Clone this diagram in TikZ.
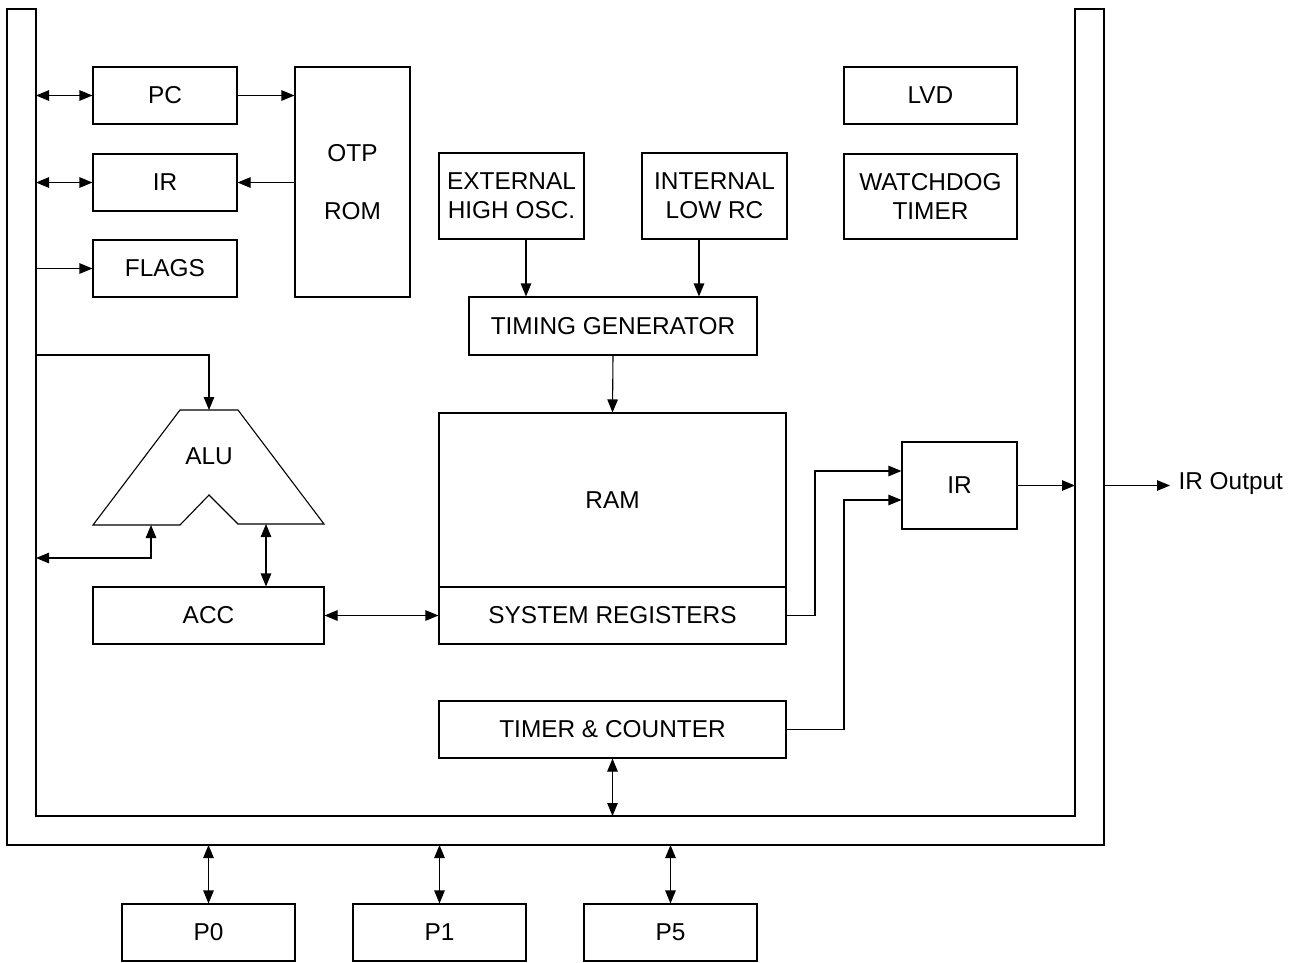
\documentclass[tikz,border=0pt]{standalone}
\usepackage{fontspec}
\setmainfont{Liberation Sans}
\usetikzlibrary{arrows.meta,calc}
\begin{document}
\begin{tikzpicture}[x=1pt,y=-1pt,
  line width=1.1pt,
  tip/.tip={Triangle[length=13pt,width=10.5pt]},
  every node/.style={font=\fontsize{24.4}{29}\selectfont, inner sep=0pt},
  blk/.style={draw, rectangle, align=center, line width=1.1pt},
  one/.style={-tip},
  two/.style={tip-tip}]
\useasboundingbox (0,0) rectangle (1296,962);

% system bus (U-shaped band)
\draw (7,9) -- (36,9) -- (36,816) -- (1075,816) -- (1075,9) -- (1104,9)
      -- (1104,845) -- (7,845) -- cycle;
\coordinate (busL) at (36,0);
\coordinate (busB) at (0,816);
\coordinate (busO) at (0,845);
\coordinate (busRi) at (1075,0);
\coordinate (busRo) at (1104,0);

% program side
\node[blk, minimum width=144, minimum height=57] (pc)    at (165,95.5)  {PC};
\node[blk, minimum width=144, minimum height=57] (irl)   at (165,182.5) {IR};
\node[blk, minimum width=144, minimum height=57] (flags) at (165,268.5) {FLAGS};
\node[blk, minimum width=115, minimum height=230] (otp)  at (352.5,182) {OTP\\[29pt]ROM};

% clocks and supervision
\node[blk, minimum width=173, minimum height=57] (lvd) at (930.5,95.5) {LVD};
\node[blk, minimum width=173, minimum height=85] (wdt) at (930.5,196.5) {WATCHDOG\\TIMER};
\node[blk, minimum width=145, minimum height=86] (ext) at (511.5,196) {EXTERNAL\\HIGH OSC.};
\node[blk, minimum width=145, minimum height=86] (irc) at (714.5,196) {INTERNAL\\LOW RC};
\node[blk, minimum width=288, minimum height=58] (tg)  at (613,326) {TIMING GENERATOR};

% data side
\node[blk, minimum width=347, minimum height=174] (ram) at (612.5,500) {RAM};
\node[blk, minimum width=347, minimum height=57] (sys) at (612.5,615.5) {SYSTEM REGISTERS};
\node[blk, minimum width=231, minimum height=57] (acc) at (208.5,615.5) {ACC};
\node[blk, minimum width=115, minimum height=87] (irr) at (959.5,485.5) {IR};
\node[blk, minimum width=347, minimum height=57] (tc)  at (612.5,729.5) {TIMER \& COUNTER};

% I/O ports
\node[blk, minimum width=173, minimum height=57] (p0) at (208.5,932.5) {P0};
\node[blk, minimum width=173, minimum height=57] (p1) at (439.5,932.5) {P1};
\node[blk, minimum width=173, minimum height=57] (p5) at (670.5,932.5) {P5};

% ALU outline with its notched base
\draw (93,525) -- (180,410) -- (238,410) -- (324,524) -- (238,524)
      -- (209,495) -- (180,525) -- cycle;
\node (alu) at (209,456) {ALU};
\coordinate (aluIn)  at (209,410);
\coordinate (aluL)   at (151,525);
\coordinate (aluR)   at (266,524);

% register file connections
\draw[two] (pc.west -| busL) -- (pc.west);
\draw[one] (pc.east) -- (pc.east -| otp.west);
\draw[one] (irl.east -| otp.west) -- (irl.east);
\draw[two] (irl.west -| busL) -- (irl.west);
\draw[one] (flags.west -| busL) -- (flags.west);

% ALU connections
\draw[one] (busL |- 0,355) -| (aluIn);
\draw[two] (busL |- 0,558) -| (aluL);
\draw[two] (aluR) -- (aluR |- acc.north);
\draw[two] (acc.east) -- (sys.west);

% clock tree
\coordinate (ck1) at (526,0);
\coordinate (ck2) at (699,0);
\draw[one] (ck1 |- ext.south) -- (ck1 |- tg.north);
\draw[one] (ck2 |- irc.south) -- (ck2 |- tg.north);
\draw[one] (tg.south) -- (ram.north);

% IR driver inputs and output
\coordinate (in1) at (815,471);
\coordinate (in2) at (844,500);
\draw[one] (sys.east) -| (in1) -- (in1 -| irr.west);
\draw[one] (tc.east) -| (in2) -- (in2 -| irr.west);
\draw[one] (irr.east) -- (irr.east -| busRi);
\coordinate (irout) at (1170,485.5);
\draw[one] (irr.east -| busRo) -- (irout);
\node[anchor=west] (iro) at (1178,484) {IR Output};

% bus connections
\draw[two] (tc.south) -- (tc.south |- busB);
\draw[two] (p0.north |- busO) -- (p0.north);
\draw[two] (p1.north |- busO) -- (p1.north);
\draw[two] (p5.north |- busO) -- (p5.north);
\end{tikzpicture}
\end{document}
